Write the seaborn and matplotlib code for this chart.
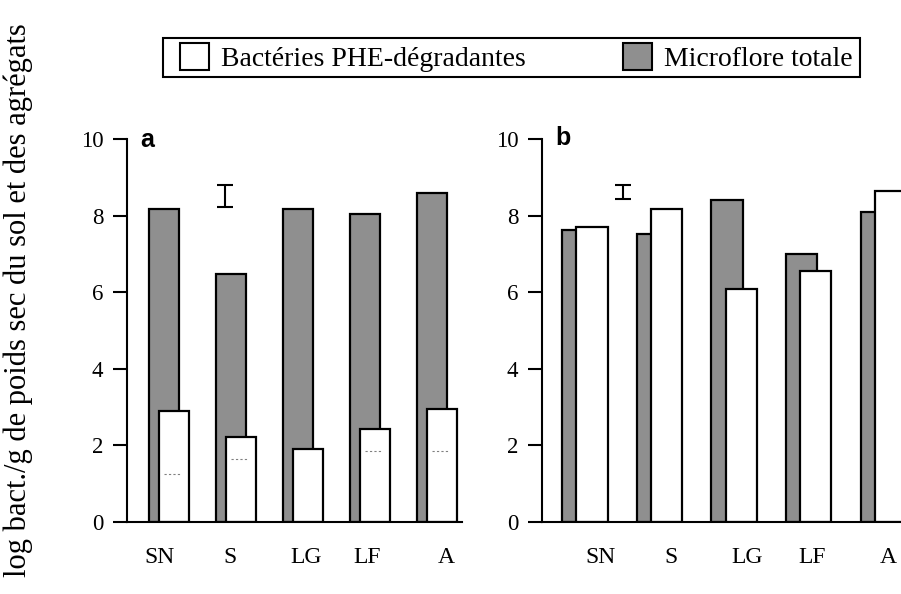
import numpy as np
import matplotlib
matplotlib.use("Agg")
import matplotlib.pyplot as plt
import seaborn as sns
from matplotlib.patches import Patch, Rectangle

# ---- data ----
categories = ["SN", "S", "LG", "LF", "A"]
total_a = [8.17, 6.47, 8.17, 8.04, 8.59]      # Microflore totale, panel a
phe_a = [2.90, 2.22, 1.90, 2.42, 2.95]        # Bactéries PHE-dégradantes, panel a
dotted_a = [1.25, 1.65, np.nan, 1.85, 1.85]   # faint dotted marks inside white bars
total_b = [7.62, 7.52, 8.40, 7.00, 8.10]      # Microflore totale, panel b
phe_b = [7.70, 8.17, 6.08, 6.55, 8.64]        # Bactéries PHE-dégradantes, panel b
err_a = [8.51, 0.29]                          # LSD bar panel a (centre, half-range)
err_b = [8.615, 0.185]                        # LSD bar panel b
yticks = [0, 2, 4, 6, 8, 10]

# ---- layout (label placement offsets, not data) ----
label_shift_a = [-0.06, -0.02, 0.12, 0.04, 0.21]
label_shift_b = [0.31, 0.25, 0.27, 0.14, 0.16]

GREY = "#8f8f8f"
plt.rcParams["font.family"] = ["Liberation Serif", "DejaVu Serif"]

W, H = 901, 594
fig = plt.figure(figsize=(W / 100, H / 100), dpi=100)


def px_axes(l, t, r, b):
    return fig.add_axes([l / W, 1 - b / H, (r - l) / W, (b - t) / H])


def panel(ax, total, phe, err, off, width, xlim, errx, shifts):
    x = np.arange(len(categories))
    sns.barplot(x=x, y=total, native_scale=True, width=width, color=GREY,
                edgecolor="black", linewidth=1.6, saturation=1, ax=ax, errorbar=None)
    sns.barplot(x=x + off, y=phe, native_scale=True, width=width, color="white",
                edgecolor="black", linewidth=1.6, saturation=1, ax=ax, errorbar=None)
    ax.errorbar([errx], [err[0]], yerr=[err[1]], fmt="none", ecolor="black",
                elinewidth=1.5, capsize=6, capthick=1.5)
    ax.set_xlim(*xlim)
    ax.set_ylim(0, 10)
    ax.set_yticks(yticks)
    ax.set_yticklabels([str(t) for t in yticks], fontsize=16.5)
    ax.set_xticks(x + np.array(shifts))
    ax.set_xticklabels(categories, fontsize=17)
    ax.tick_params(axis="x", length=0, pad=18)
    ax.tick_params(axis="y", length=10, width=1.5, pad=7)
    for s in ["top", "right"]:
        ax.spines[s].set_visible(False)
    for s in ["left", "bottom"]:
        ax.spines[s].set_linewidth(1.5)
        ax.spines[s].set_color("black")
    ax.set_xlabel("")
    ax.set_ylabel("")
    return x


axA = px_axes(127, 139, 462, 522)
xa = panel(axA, total_a, phe_a, err_a, 0.15, 0.45, (-0.55, 4.45), 0.91, label_shift_a)
axA.hlines(dotted_a, xa + 0.0, xa + 0.26, colors="grey", linestyles=(0, (2, 2)), lw=0.8)

axB = px_axes(542, 139, 912, 522)
panel(axB, total_b, phe_b, err_b, 0.19, 0.42, (-0.48, 4.48), 0.60, label_shift_b)

fig.text(147 / W, 1 - 140 / H, "a", fontsize=18, fontweight="bold",
         family="Liberation Sans", ha="center", va="center")
fig.text(563 / W, 1 - 138 / H, "b", fontsize=18, fontweight="bold",
         family="Liberation Sans", ha="center", va="center")

fig.text(18 / W, 1 - 300 / H, "log bact./g de poids sec du sol et des agrégats",
         rotation=90, fontsize=22, ha="center", va="center")

# legend frame drawn as a plain rectangle
fig.add_artist(Rectangle((163 / W, 1 - 77 / H), (860 - 163) / W, (77 - 38) / H,
                         transform=fig.transFigure, facecolor="none",
                         edgecolor="black", linewidth=1.5))
handles = [Patch(facecolor="white", edgecolor="black", linewidth=1.5,
                 label="Bactéries PHE-dégradantes"),
           Patch(facecolor=GREY, edgecolor="black", linewidth=1.5,
                 label="Microflore totale")]
leg = fig.legend(handles=handles, loc="center left", ncol=2,
                 bbox_to_anchor=(180 / W, 1 - 57.5 / H),
                 frameon=False, fontsize=20,
                 columnspacing=3.5, handlelength=1.04, handleheight=1.15,
                 handletextpad=0.43, borderpad=0, borderaxespad=0)

fig.savefig("out.png", dpi=100, facecolor="white")
